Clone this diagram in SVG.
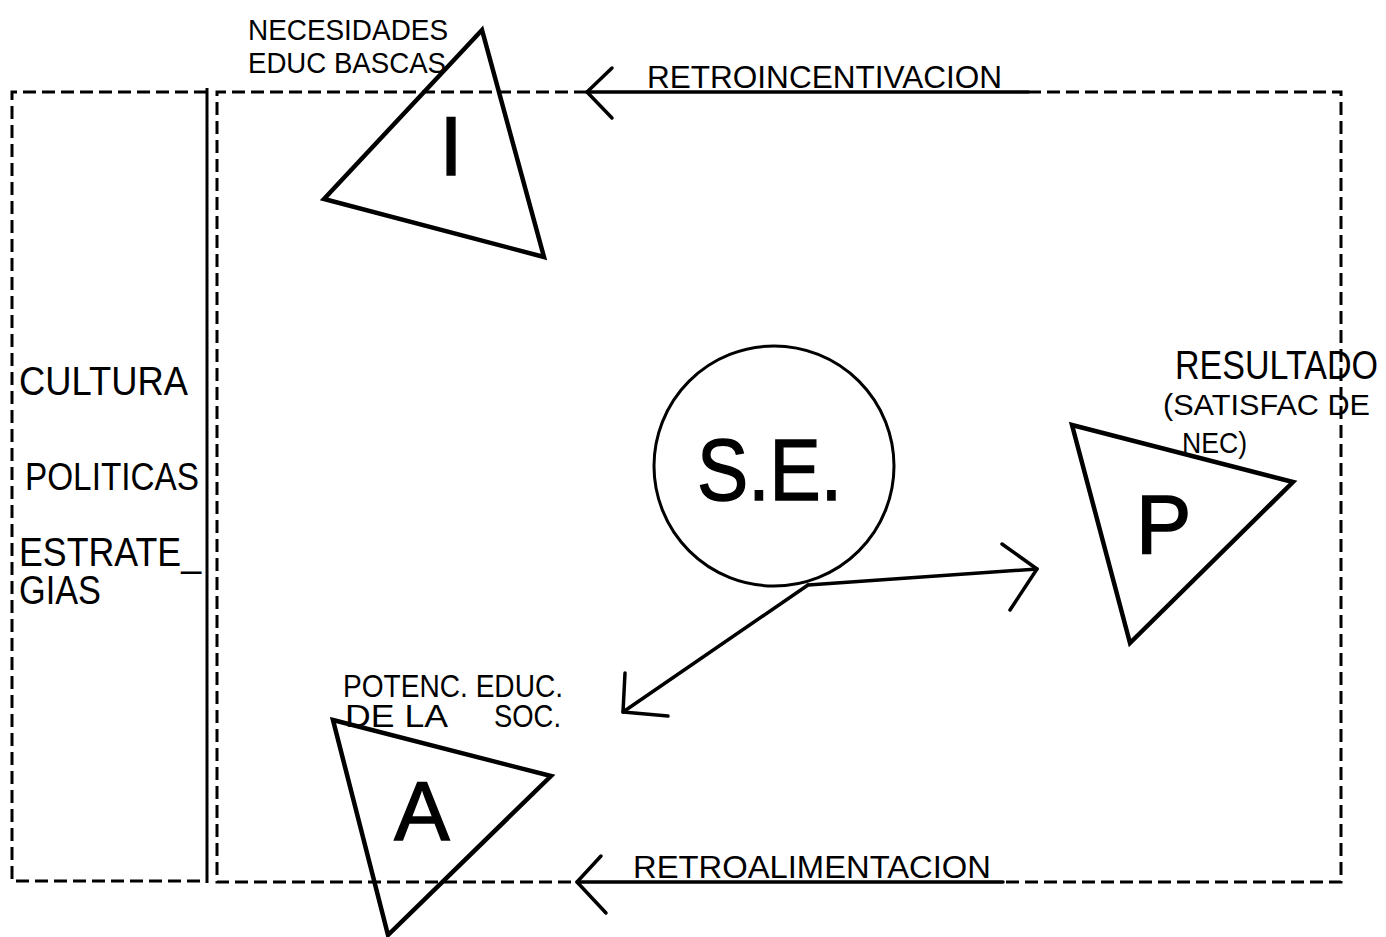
<svg xmlns="http://www.w3.org/2000/svg" width="1386" height="937" viewBox="0 0 1386 937">
<style>
.bg{fill:#fff}
.dash{fill:none;stroke:#000;stroke-width:3;stroke-dasharray:13 6}
.solid{fill:none;stroke:#000;stroke-width:3}
.tri{fill:none;stroke:#000;stroke-width:4.5;stroke-linejoin:miter}
.circ{fill:none;stroke:#000;stroke-width:3}
.arr{fill:none;stroke:#000;stroke-width:3.5;stroke-linecap:round;stroke-linejoin:round}
.lbl{font-family:"Liberation Sans",Arial,sans-serif;fill:#000}
.big{font-family:"Liberation Sans",Arial,sans-serif;fill:#000;stroke:#000;stroke-width:1.5}
</style>
<rect class="bg" x="0" y="0" width="1386" height="937"/>
<g id="frame">
  <path class="dash" d="M207,92 H12 V881 H207"/>
  <line class="solid" x1="207" y1="88" x2="207" y2="883"/>
  <path class="dash" d="M587,92 H217 V882 H577"/>
  <path class="dash" d="M1028,92 H1341 V882 H1003"/>
</g>
<g id="left-panel">
  <text class="lbl" x="19" y="395" font-size="41" textLength="169" lengthAdjust="spacingAndGlyphs">CULTURA</text>
  <text class="lbl" x="25" y="490" font-size="39" textLength="174" lengthAdjust="spacingAndGlyphs">POLITICAS</text>
  <text class="lbl" x="19" y="566" font-size="40" textLength="182" lengthAdjust="spacingAndGlyphs">ESTRATE_</text>
  <text class="lbl" x="19" y="604" font-size="40" textLength="82" lengthAdjust="spacingAndGlyphs">GIAS</text>
</g>
<g id="node-I">
  <polygon class="tri" points="482,30 324,199 544,257"/>
  <text class="big" x="451" y="175" font-size="83" text-anchor="middle">I</text>
  <text class="lbl" x="248" y="40" font-size="30" textLength="200" lengthAdjust="spacingAndGlyphs">NECESIDADES</text>
  <text class="lbl" x="248" y="73" font-size="30" textLength="198" lengthAdjust="spacingAndGlyphs">EDUC BASCAS</text>
</g>
<g id="node-SE">
  <circle class="circ" cx="774" cy="466" r="120"/>
  <text class="big" x="697" y="500" font-size="88" stroke-width="2" textLength="145" lengthAdjust="spacingAndGlyphs">S.E.</text>
</g>
<g id="node-P">
  <polygon class="tri" points="1072,425 1293,482 1130,643"/>
  <text class="big" x="1136" y="553" font-size="83">P</text>
  <text class="lbl" x="1175" y="379" font-size="40" textLength="203" lengthAdjust="spacingAndGlyphs">RESULTADO</text>
  <text class="lbl" x="1163" y="415" font-size="30" textLength="207" lengthAdjust="spacingAndGlyphs">(SATISFAC DE</text>
  <text class="lbl" x="1182" y="453" font-size="30" textLength="65" lengthAdjust="spacingAndGlyphs">NEC)</text>
</g>
<g id="node-A">
  <polygon class="tri" points="333,720 551,776 388,935"/>
  <text class="big" x="422" y="840" font-size="83" text-anchor="middle">A</text>
  <text class="lbl" x="343" y="697" font-size="32" textLength="220" lengthAdjust="spacingAndGlyphs">POTENC. EDUC.</text>
  <text class="lbl" y="727" font-size="32"><tspan x="345" textLength="103" lengthAdjust="spacingAndGlyphs">DE LA</tspan><tspan x="494" textLength="67" lengthAdjust="spacingAndGlyphs">SOC.</tspan></text>
</g>
<g id="connectors">
  <line class="arr" x1="808" y1="585" x2="1037" y2="569"/>
  <polyline class="arr" points="1002,544 1037,569 1010,610"/>
  <line class="arr" x1="808" y1="585" x2="623" y2="712"/>
  <polyline class="arr" points="625,673 623,712 668,716"/>
  <line class="arr" x1="587" y1="92" x2="1028" y2="92"/>
  <polyline class="arr" points="612,68 587,92 612,118"/>
  <text class="lbl" x="647" y="88" font-size="32" textLength="355" lengthAdjust="spacingAndGlyphs">RETROINCENTIVACION</text>
  <line class="arr" x1="577" y1="882" x2="1003" y2="882"/>
  <polyline class="arr" points="601,856 577,882 606,913"/>
  <text class="lbl" x="633" y="878" font-size="32" textLength="358" lengthAdjust="spacingAndGlyphs">RETROALIMENTACION</text>
</g>
</svg>
